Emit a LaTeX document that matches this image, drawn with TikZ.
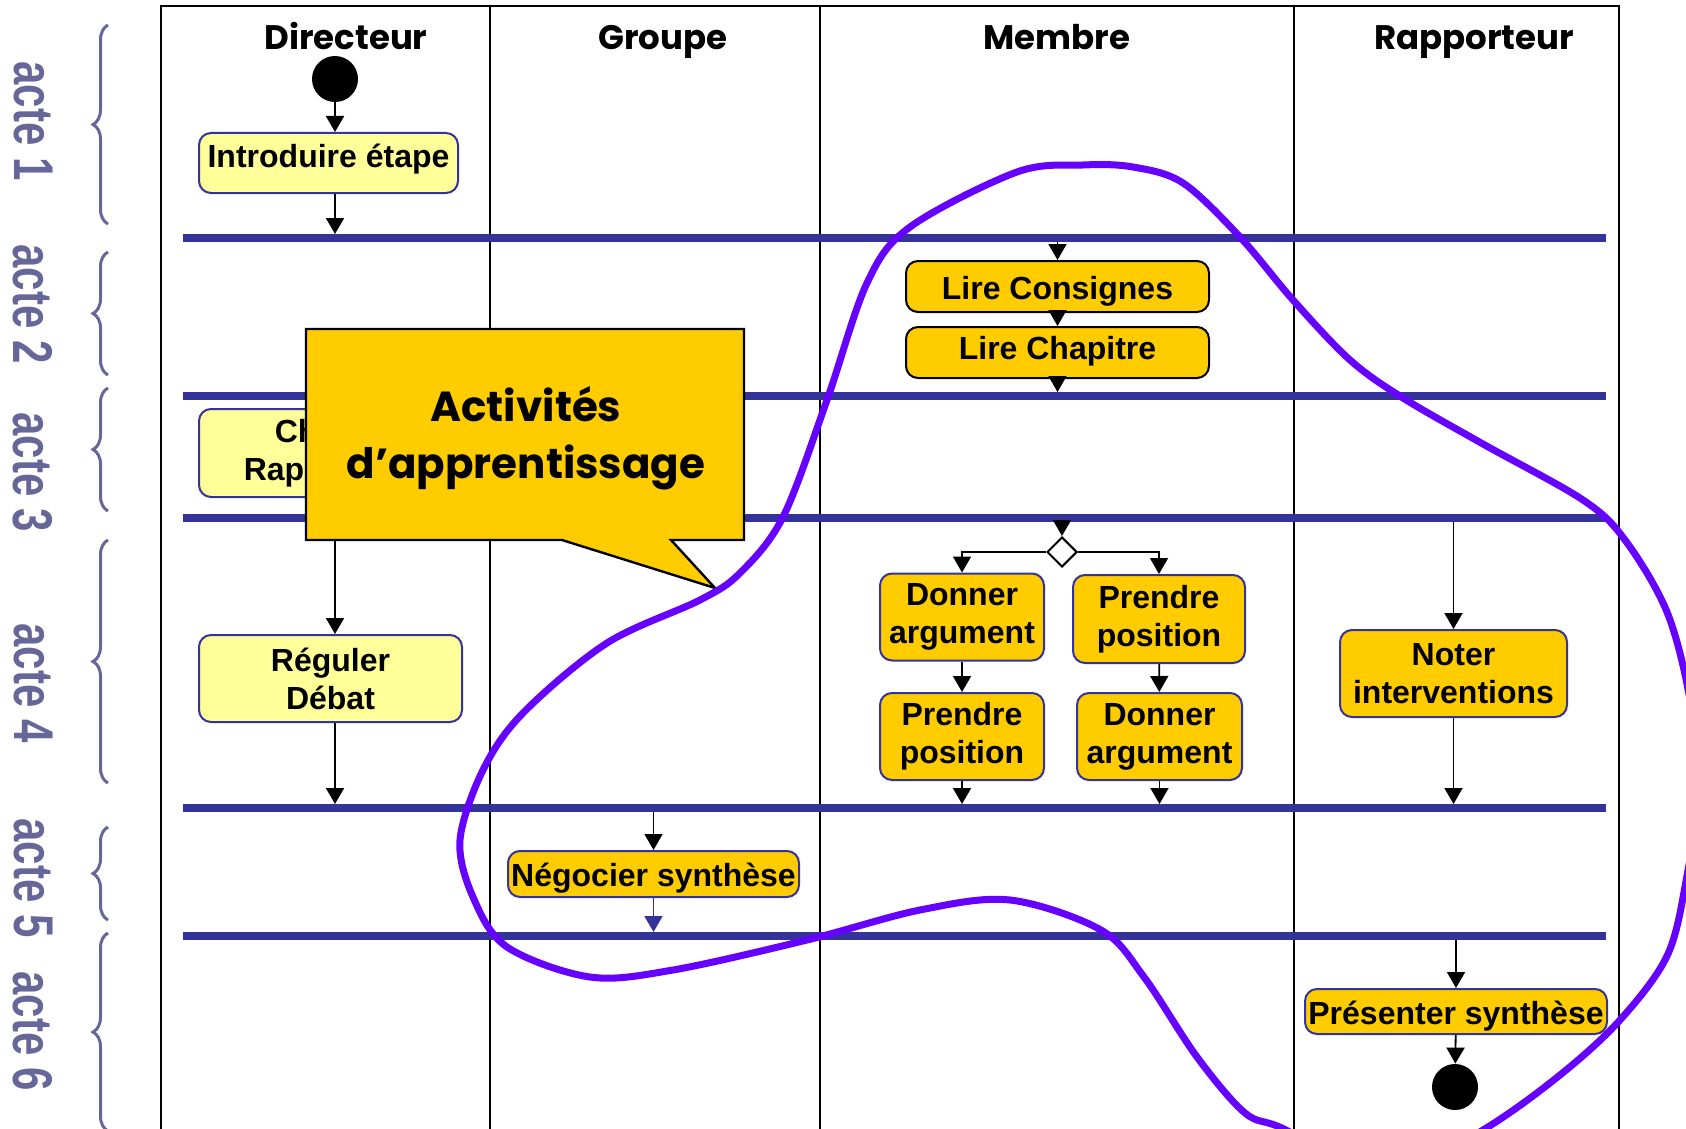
\documentclass[tikz,border=0pt]{standalone}
\usepackage{fontspec}
\setmainfont{Liberation Sans}
\newfontfamily\comicfont{Poppins}
\usetikzlibrary{arrows.meta,shapes.geometric,decorations.pathreplacing}

\definecolor{barblue}{RGB}{51,51,153}
\definecolor{actgray}{RGB}{102,102,153}
\definecolor{paleyellow}{RGB}{255,255,153}
\definecolor{gold}{RGB}{255,204,0}
\definecolor{loopviolet}{RGB}{102,0,255}

\begin{document}
\begin{tikzpicture}[x=0.5pt, y=-0.5pt,
    lane/.style={font=\comicfont\bfseries\fontsize{17}{20}\selectfont, anchor=base},
    actbox/.style={rectangle, rounded corners=6pt, draw=barblue, line width=1pt,
      fill=paleyellow, font=\bfseries\fontsize{16}{19}\selectfont, align=center,
      inner sep=0pt},
    taskbox/.style={actbox, fill=gold},
    readbox/.style={taskbox, draw=black},
    bar/.style={barblue, line width=4pt},
    flow/.style={-{Triangle[width=9pt,length=8pt]}, line width=0.9pt},
    acte/.style={actgray, font=\bfseries\fontsize{28}{28}\selectfont, rotate=-90},
    accolade/.style={actgray, line width=1.5pt, decorate,
      decoration={brace, amplitude=7.5pt}}]

    \useasboundingbox (0,0) rectangle (1686,1129);
    \clip (0,0) rectangle (1686,1129);

    % couloirs
    \draw[line width=1.2pt] (161,1140) -- (161,6) -- (1619,6) -- (1619,1140);
    \foreach \x in {490,820,1294}
      \draw[line width=1.2pt] (\x,6) -- (\x,1140);

    \node[lane] (dir) at (346,50) {Directeur};
    \node[lane] (grp) at (663,50) {Groupe};
    \node[lane] (mbr) at (1057,50) {Membre};
    \node[lane] (rap) at (1474,50) {Rapporteur};

    % barres de synchronisation
    \foreach \y in {238,396,518,808,936}
      \draw[bar] (183,\y) -- (1606,\y);

    \coordinate (bar1in) at (0,234);
    \coordinate (bar1out) at (0,242);
    \coordinate (bar2in) at (0,392);
    \coordinate (bar3out) at (0,522);
    \coordinate (bar4in) at (0,804);
    \coordinate (bar4out) at (0,812);
    \coordinate (bar5in) at (0,932);
    \coordinate (bar5out) at (0,940);

    % actes
    \draw[accolade] (108,224) -- (108,25);
    \draw[accolade] (108,375) -- (108,252);
    \draw[accolade] (108,511) -- (108,388);
    \draw[accolade] (108,783) -- (108,540);
    \draw[accolade] (108,920) -- (108,827);
    \draw[accolade] (108,1131) -- (108,933);

    \node[acte] (acte1) at (33,121) {\scalebox{0.75}[1]{acte 1}};
    \node[acte] (acte2) at (33,304) {\scalebox{0.75}[1]{acte 2}};
    \node[acte] (acte3) at (33,472) {\scalebox{0.75}[1]{acte 3}};
    \node[acte] (acte4) at (33,683) {\scalebox{0.75}[1]{acte 4}};
    \node[acte] (acte5) at (33,878) {\scalebox{0.75}[1]{acte 5}};
    \node[acte] (acte6) at (33,1031) {\scalebox{0.75}[1]{acte 6}};

    % Directeur
    \node[circle, fill=black, minimum size=23pt, inner sep=0pt] (start) at (335,79) {};
    \node[actbox, minimum width=129.5pt, minimum height=30pt, text height=12pt, text depth=8pt] (intro) at (328.5,163) {Introduire étape};
    \node[actbox, minimum width=131pt, minimum height=44pt] (choisir) at (330,453) {Choisir\\Rapporteur};
    \node[actbox, minimum width=131.5pt, minimum height=43.5pt] (reguler) at (330.5,678.5) {Réguler\\Débat};

    % Groupe
    \node[taskbox, minimum width=145.5pt, minimum height=23pt, text height=14pt, text depth=1.5pt] (negocier) at (653.5,874) {Négocier synthèse};

    % Membre
    \node[readbox, minimum width=151.5pt, minimum height=25.5pt, text height=15pt, text depth=2pt] (consignes) at (1057.5,286.5) {Lire Consignes};
    \node[readbox, minimum width=151.5pt, minimum height=25.5pt, text height=12pt, text depth=5pt] (chapitre) at (1057.5,352.5) {Lire Chapitre};
    \node[diamond, draw, fill=white, line width=1pt, minimum size=15pt, inner sep=0pt] (choix) at (1062,552) {};
    \node[taskbox, minimum width=82pt, minimum height=43.5pt] (donner1) at (962,617) {Donner\\argument};
    \node[taskbox, minimum width=86pt, minimum height=44pt] (prendre1) at (1159,619) {Prendre\\position};
    \node[taskbox, minimum width=82pt, minimum height=43.5pt] (prendre2) at (962,736.5) {Prendre\\position};
    \node[taskbox, minimum width=82.5pt, minimum height=43.5pt] (donner2) at (1159.5,736.5) {Donner\\argument};

    % Rapporteur
    \node[taskbox, minimum width=113.5pt, minimum height=43.5pt] (noter) at (1453.5,673.5) {Noter\\interventions};
    \node[taskbox, minimum width=151pt, minimum height=22.5pt, text height=14pt, text depth=1pt] (presenter) at (1456,1011.5) {Présenter synthèse};
    \node[circle, fill=black, minimum size=23pt, inner sep=0pt] (fin) at (1455,1087) {};

    % transitions
    \draw[flow] (start) -- (start |- intro.north);
    \draw[flow] (start |- intro.south) -- (start |- bar1in);
    \draw[flow] (consignes.north |- bar1out) -- (consignes.north);
    \draw[flow] (consignes) -- (chapitre);
    \draw[flow] (chapitre.south) -- (chapitre.south |- bar2in);
    \draw[flow] (start |- choisir.south) -- (start |- reguler.north);
    \draw[flow] (start |- reguler.south) -- (start |- bar4in);
    \draw[flow] (choix.north |- bar3out) -- (choix.north);
    \draw[flow] (choix.west) -| (donner1.north);
    \draw[flow] (choix.east) -| (prendre1.north);
    \draw[flow] (donner1) -- (prendre2);
    \draw[flow] (prendre1) -- (donner2);
    \draw[flow] (prendre2.south) -- (prendre2.south |- bar4in);
    \draw[flow] (donner2.south) -- (donner2.south |- bar4in);
    \draw[flow] (noter.north |- bar3out) -- (noter.north);
    \draw[flow] (noter.south) -- (noter.south |- bar4in);
    \draw[flow] (negocier.north |- bar4out) -- (negocier.north);
    \draw[flow, barblue] (negocier.south) -- (negocier.south |- bar5in);
    \draw[flow] (presenter.north |- bar5out) -- (presenter.north);
    \draw[flow] (presenter) -- (fin);

    % bulle
    \draw[fill=gold, line width=1.2pt] (306,329) -- (744,329) -- (744,540) -- (671,540)
      -- (715,588) -- (562,540) -- (306,540) -- cycle;
    \node[font=\comicfont\bfseries\fontsize{21}{28.5}\selectfont, align=center] (bulle) at (526,438) {Activités\\d’apprentissage};

    % boucle
    \draw[loopviolet, line width=3.5pt] plot[smooth cycle, tension=0.55] coordinates {
      (1083,165) (1133,167) (1183,183) (1240,237) (1293,300) (1350,360) (1403,398)
      (1483,444) (1583,500) (1625,540) (1667,612) (1690,700) (1698,790) (1686,881)
      (1667,956) (1620,1020) (1560,1075) (1483,1130) (1385,1180)
      (1284,1129) (1245,1113) (1197,1057) (1144,977) (1101,930) (1010,900)
      (920,910) (807,940) (673,970) (590,977) (507,947) (473,897) (460,840)
      (483,770) (523,713) (607,643) (700,600) (740,573) (783,517) (827,400)
      (867,283) (910,227) (1017,172)};

  \end{tikzpicture}
\end{document}
